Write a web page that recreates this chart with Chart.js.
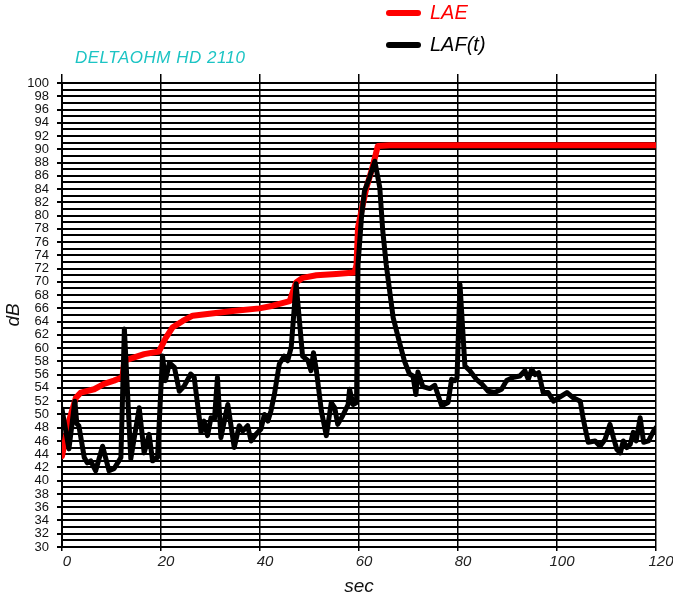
<!DOCTYPE html>
<html>
<head>
<meta charset="utf-8">
<script src="https://cdn.jsdelivr.net/npm/chart.js@4/dist/chart.umd.min.js"></script>
<style>
  body { margin: 0; background: #fff; }
  #wrap { width: 673px; height: 598px; }
</style>
</head>
<body>
<div id="wrap"><canvas id="canvas" width="673" height="598"></canvas></div>
<script>
// LAF(t) - fast weighted level
var lafTime = [0, 1.4, 2.6, 3.0, 3.4, 4.5, 5.1, 5.8, 6.8, 8.2, 9.5, 10.5, 11.5, 11.9, 12.6, 13.9, 15.6, 16.6, 17.6, 18.3, 19.3,
    20.3, 20.9, 21.7, 22.7, 23.7, 24.7, 26.0, 26.7, 28.1, 28.7, 29.4, 30.1, 30.8, 31.4, 32.1, 33.5, 34.8, 35.8, 36.5, 37.5, 38.2, 39.2,
    40.2, 40.9, 41.6, 42.2, 42.9, 43.9, 44.9, 45.6, 46.3, 47.3, 48.6, 49.7, 50.3, 50.8, 51.4, 52.4, 53.4, 54.4, 55.1, 55.7, 56.7, 57.8, 58.1, 58.8, 59.5,
    59.8, 60.5, 61.1, 62.1, 63.2, 64.2, 64.8, 65.5, 66.9, 68.2, 69.2, 70.2, 70.9, 71.5, 71.9, 72.9, 74.3, 75.3, 76.7, 78.0, 78.7, 79.4, 79.8,
    80.4, 81.4, 82.4, 83.7, 84.8, 86.1, 87.4, 88.8, 89.8, 91.2, 92.5, 93.5, 94.2, 94.9, 95.6, 96.3, 97.2, 98.2, 99.3,
    100.3, 102.0, 103.3, 104.7, 105.3, 106.3, 107.7, 108.7, 109.7, 110.7, 111.4, 112.1, 112.8, 113.4, 114.1, 114.8, 115.4, 116.0, 116.8, 117.5, 118.5, 119.5, 120];
var lafDb = [50.8, 44.8, 52.0, 48.6, 48.3, 43.5, 42.7, 43.0, 41.5, 45.2, 41.5, 41.8, 43.0, 43.5, 62.9, 43.3, 51.0, 44.2, 47.0, 43.0, 43.5,
    58.8, 55.1, 57.8, 57.1, 53.5, 54.3, 56.1, 55.6, 47.3, 49.0, 46.8, 49.5, 49.3, 55.6, 46.5, 51.5, 45.0, 48.3, 47.5, 48.3, 46.0, 47.0,
    47.8, 50.0, 49.0, 50.5, 53.0, 57.6, 58.8, 58.1, 60.1, 69.7, 58.8, 58.1, 56.6, 59.3, 56.6, 50.5, 46.8, 51.8, 51.0, 48.5, 49.8, 51.5, 53.8, 51.5, 51.8,
    72.6, 79.7, 83.7, 85.7, 88.2, 84.2, 77.7, 72.6, 64.6, 60.8, 58.0, 56.1, 55.8, 53.0, 56.4, 54.2, 53.9, 54.4, 51.3, 51.8, 55.3, 55.1, 55.5,
    69.6, 57.3, 56.6, 55.3, 54.6, 53.5, 53.3, 53.8, 55.1, 55.6, 55.8, 56.6, 55.3, 56.8, 56.0, 56.3, 53.3, 53.3, 52.0,
    52.5, 53.3, 52.5, 52.0, 49.3, 45.8, 46.0, 45.2, 46.2, 48.5, 46.5, 44.7, 44.2, 46.0, 45.0, 45.5, 47.3, 46.0, 49.5, 45.8, 46.0, 47.5, 48.0];

// LAE - exposure level (running)
var laeTime = [0, 1.4, 2.8, 3.8, 6.5, 8.5, 10.5, 12.2, 12.6, 14.6, 16.6, 19.6, 21.0, 22.3, 24.4, 26.4, 29.8, 34.5, 39.9, 42.6, 46.0,
    47.3, 48.6, 51.4, 55.4, 59.1, 59.5, 59.8, 60.5, 61.5, 62.5, 63.2, 63.8, 66.2, 120];
var laeDb = [43.7, 49.0, 52.5, 53.3, 53.8, 54.6, 55.1, 55.6, 58.1, 58.6, 59.1, 59.5, 61.6, 63.1, 64.1, 64.9, 65.2, 65.6, 66.0, 66.4, 67.1,
    69.9, 70.6, 71.0, 71.2, 71.4, 72.6, 78.2, 80.7, 84.2, 86.7, 88.7, 90.5, 90.6, 90.6];

var seriesNames = ['LAE', 'LAF(t)'];
var seriesColors = ['#ff0000', '#000000'];
var instrument = 'DELTAOHM HD 2110';
var xTitle = 'sec';
var yTitle = 'dB';

function toPoints(xs, ys) {
    var pts = [];
    for (var i = 0; i < xs.length; i++) pts.push({x: xs[i], y: ys[i]});
    return pts;
}

var FONT = '"Liberation Sans", Arial, sans-serif';

// legend stacked on top + instrument label
var decorPlugin = {
    id: 'decor',
    afterDraw: function(chart) {
        var ctx = chart.ctx;
        ctx.save();
        var rows = [13, 45];
        chart.data.datasets.forEach(function(ds, i) {
            var y = rows[i];
            ctx.strokeStyle = ds.borderColor;
            ctx.lineWidth = 6;
            ctx.lineCap = 'round';
            ctx.beginPath();
            ctx.moveTo(389, y);
            ctx.lineTo(418, y);
            ctx.stroke();
            ctx.fillStyle = ds.borderColor;
            ctx.font = 'italic 20px ' + FONT;
            ctx.textBaseline = 'middle';
            ctx.fillText(ds.label, 430, y);
        });
        ctx.fillStyle = '#1cc4c4';
        ctx.font = 'italic 17px ' + FONT;
        ctx.letterSpacing = '0.5px';
        ctx.textBaseline = 'middle';
        ctx.fillText(instrument, 75, 58);
        ctx.restore();
    }
};

var ctx = document.getElementById('canvas').getContext('2d');
var chart = new Chart(ctx, {
    type: 'line',
    data: {
        datasets: [
            {
                label: seriesNames[0],
                data: toPoints(laeTime, laeDb),
                borderColor: seriesColors[0],
                borderWidth: 6,
                borderJoinStyle: 'round',
                borderCapStyle: 'round',
                pointRadius: 0,
                tension: 0,
                order: 1
            },
            {
                label: seriesNames[1],
                data: toPoints(lafTime, lafDb),
                borderColor: seriesColors[1],
                borderWidth: 5,
                borderJoinStyle: 'round',
                borderCapStyle: 'round',
                pointRadius: 0,
                tension: 0,
                order: 0
            }
        ]
    },
    options: {
        responsive: false,
        animation: false,
        layout: { padding: { top: 74, right: 17, left: 0, bottom: 0 } },
        plugins: {
            legend: { display: false },
            tooltip: { enabled: false }
        },
        scales: {
            x: {
                type: 'linear',
                position: 'bottom',
                min: 0, max: 120,
                ticks: {
                    stepSize: 20,
                    color: '#222',
                    font: { family: FONT, size: 15, style: 'italic' },
                    labelOffset: 5,
                    padding: 2,
                    maxRotation: 0
                },
                grid: { color: '#000', lineWidth: 1.5, tickLength: 4 },
                border: { color: '#000', width: 2 },
                title: {
                    display: true, text: xTitle, color: '#111',
                    font: { family: FONT, size: 19, style: 'italic' },
                    padding: { top: 0, bottom: 0 }
                },
                afterFit: function(s) { s.height = 51; }
            },
            x2: {
                type: 'linear',
                position: 'top',
                min: 0, max: 120,
                ticks: { stepSize: 20, display: false },
                grid: { drawOnChartArea: false, color: '#000', lineWidth: 1.5, tickLength: 9 },
                border: { display: false },
                afterFit: function(s) { s.height = 9; }
            },
            y: {
                min: 30, max: 100,
                ticks: {
                    stepSize: 1,
                    autoSkip: false,
                    color: '#111',
                    font: { family: FONT, size: 13 },
                    padding: 8,
                    callback: function(v) { return v % 2 === 0 ? v : ''; }
                },
                grid: {
                    color: '#000',
                    lineWidth: 2,
                    tickLength: 5,
                    tickColor: function(c) { return c.tick && c.tick.value % 2 === 0 ? '#000' : 'rgba(0,0,0,0)'; }
                },
                border: { color: '#000', width: 2 },
                title: {
                    display: true, text: yTitle, color: '#111',
                    font: { family: FONT, size: 19, style: 'italic' },
                    padding: { top: 2, bottom: 0 }
                },
                afterFit: function(s) { s.width = 62; }
            }
        }
    },
    plugins: [decorPlugin]
});
</script>
</body>
</html>
